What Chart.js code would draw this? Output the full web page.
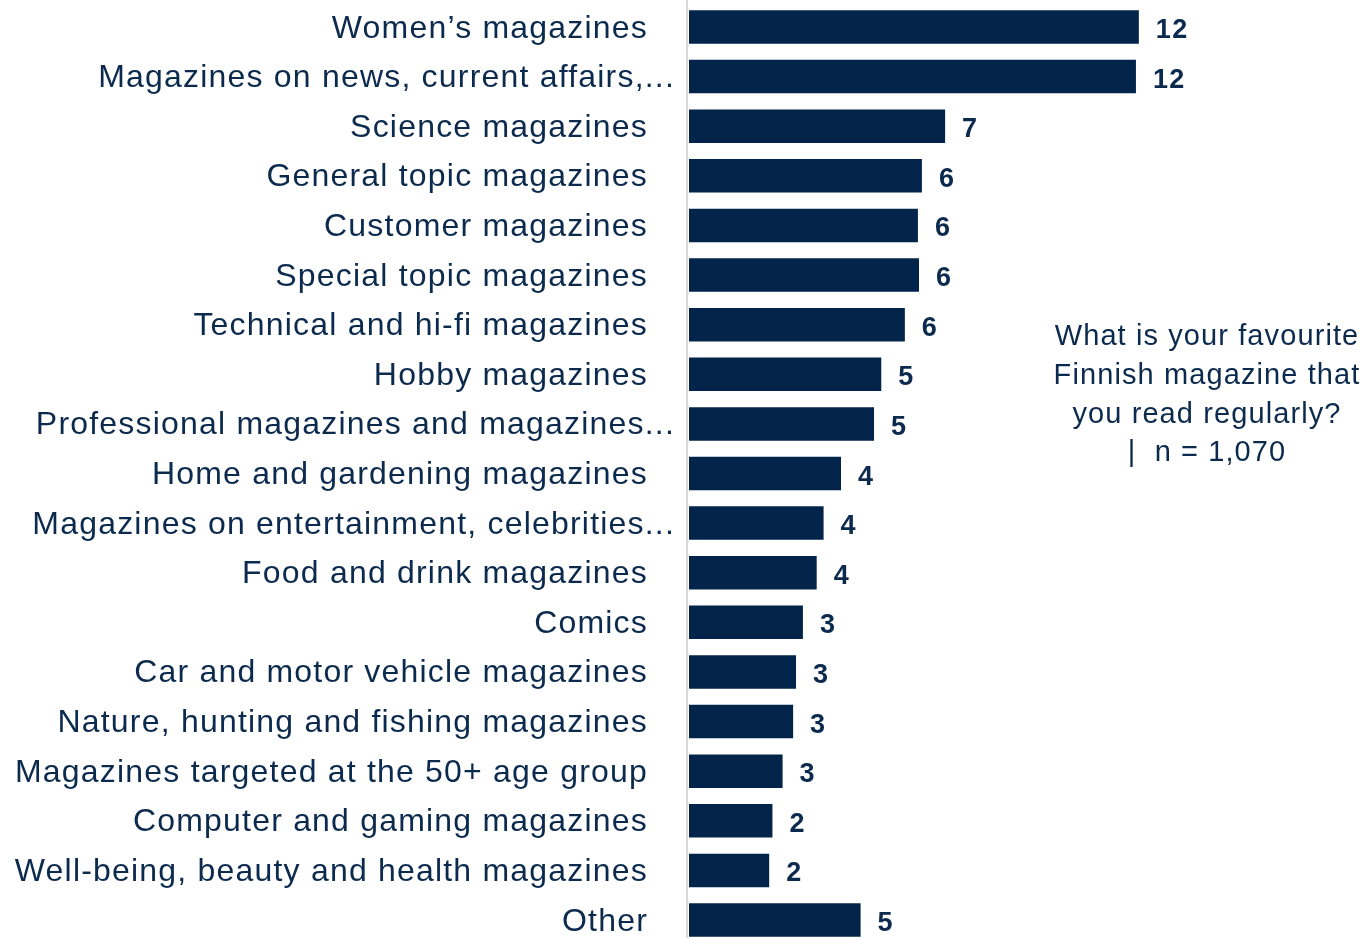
<!DOCTYPE html>
<html lang="en">
<head>
    <meta charset="UTF-8">
    <title>Favourite Finnish magazines</title>
    <script src="https://cdn.jsdelivr.net/npm/chart.js"></script>
    <style>
        body {
            margin: 0;
            padding: 0;
            background-color: #ffffff;
        }

        .chart-container {
            width: 1370px;
            height: 938px;
            position: relative;
        }
    </style>
</head>
<body>
    <div class="chart-container">
        <canvas id="chart"></canvas>
    </div>

    <script>
        const categories = [
            'Women\u2019s magazines',
            'Magazines on news, current affairs,...',
            'Science magazines',
            'General topic magazines',
            'Customer magazines',
            'Special topic magazines',
            'Technical and hi-fi magazines',
            'Hobby magazines',
            'Professional magazines and magazines...',
            'Home and gardening magazines',
            'Magazines on entertainment, celebrities...',
            'Food and drink magazines',
            'Comics',
            'Car and motor vehicle magazines',
            'Nature, hunting and fishing magazines',
            'Magazines targeted at the 50+ age group',
            'Computer and gaming magazines',
            'Well-being, beauty and health magazines',
            'Other'
        ];

        // share of respondents, %
        const shares = [
            12.40, 12.32, 7.06, 6.42, 6.31, 6.34, 5.95, 5.30, 5.10, 4.19,
            3.71, 3.52, 3.14, 2.95, 2.87, 2.58, 2.30, 2.21, 4.73
        ];

        const questionLines = [
            'What is your favourite',
            'Finnish magazine that',
            'you read regularly?',
            '|  n = 1,070'
        ];

        const NAVY = '#03244a';
        const TEXT = '#0b2a4d';

        // category names on the left, value labels at bar ends, question text on the right
        const textPlugin = {
            id: 'textPlugin',
            beforeDatasetsDraw(chart) {
                const ctx = chart.ctx;
                const area = chart.chartArea;
                ctx.save();
                ctx.strokeStyle = '#d9d9d9';
                ctx.lineWidth = 2;
                ctx.beginPath();
                ctx.moveTo(area.left - 2, 0);
                ctx.lineTo(area.left - 2, chart.height);
                ctx.stroke();
                ctx.restore();
            },
            afterDraw(chart) {
                const ctx = chart.ctx;
                const yScale = chart.scales.y;
                const meta = chart.getDatasetMeta(0);

                ctx.save();
                ctx.fillStyle = TEXT;

                ctx.font = '32px "Liberation Sans", Arial, sans-serif';
                ctx.letterSpacing = '1.2px';
                ctx.textAlign = 'right';
                ctx.textBaseline = 'alphabetic';
                categories.forEach((name, i) => {
                    const y = yScale.getPixelForValue(i);
                    const right = name.endsWith('...') ? 675 : 648;
                    ctx.fillText(name, right, y + 10.5);
                });

                ctx.font = 'bold 27px "Liberation Sans", Arial, sans-serif';
                ctx.letterSpacing = '1.3px';
                ctx.textAlign = 'left';
                meta.data.forEach((bar, i) => {
                    ctx.fillText(String(Math.round(shares[i])), bar.x + 17, bar.y + 11);
                });

                ctx.font = '29px "Liberation Sans", Arial, sans-serif';
                ctx.letterSpacing = '1.1px';
                ctx.textAlign = 'center';
                questionLines.forEach((line, i) => {
                    ctx.fillText(line, 1207, 345 + i * 38.8);
                });
                ctx.restore();
            }
        };

        new Chart(document.getElementById('chart'), {
            type: 'bar',
            data: {
                labels: categories,
                datasets: [{
                    data: shares,
                    backgroundColor: NAVY,
                    borderWidth: 0,
                    barPercentage: 0.675,
                    categoryPercentage: 1,
                    clip: false
                }]
            },
            options: {
                indexAxis: 'y',
                responsive: true,
                maintainAspectRatio: false,
                animation: false,
                layout: {
                    padding: { left: 689, right: 28, top: 27, bottom: 18 }
                },
                scales: {
                    x: { display: false, min: 0, max: 18 },
                    y: { display: false, offset: false }
                },
                plugins: {
                    legend: { display: false },
                    tooltip: { enabled: false }
                }
            },
            plugins: [textPlugin]
        });
    </script>
</body>
</html>
